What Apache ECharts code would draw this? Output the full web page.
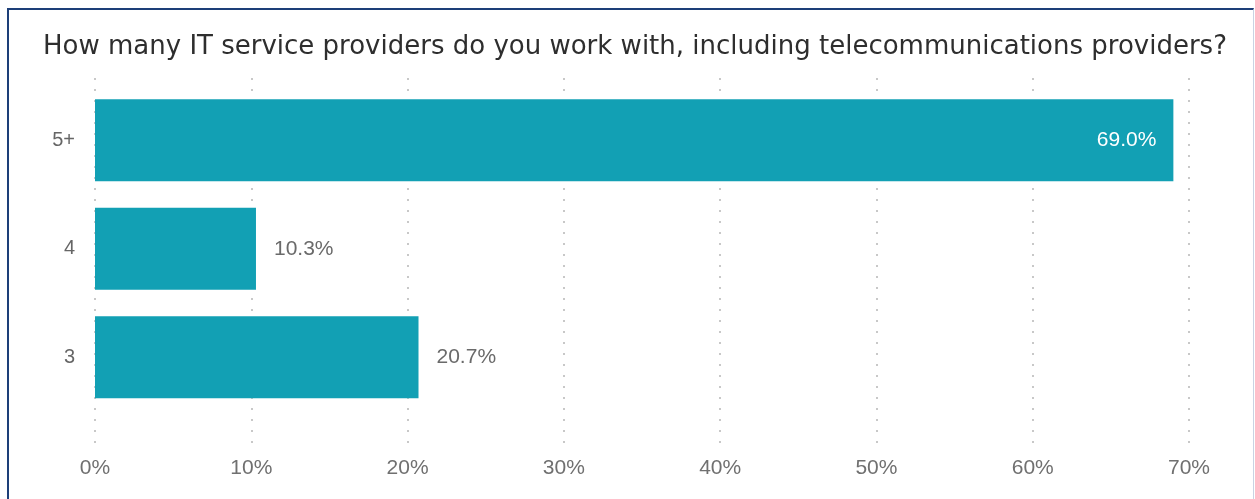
<!DOCTYPE html>
<html>
<head>
<meta charset="utf-8">
<script src="https://cdn.jsdelivr.net/npm/echarts@6/dist/echarts.min.js"></script>
<style>
  html, body { margin: 0; padding: 0; background: #fff; }
  #chart { position: absolute; left: 0; top: 0; width: 1255px; height: 499px; }
  #frame {
    position: absolute; left: 7px; top: 8px; width: 1244px; height: 500px;
    border-left: 2px solid #1d3f78; border-top: 2px solid #1d3f78;
    border-right: 1px solid #c9d3e3; pointer-events: none;
  }
</style>
</head>
<body>
<div id="chart"></div>
<div id="frame"></div>
<script>
// Survey answers, top row first
const categories = ['5+', '4', '3'];
const shares = [69.0, 10.3, 20.7];
const tickValues = [0, 10, 20, 30, 40, 50, 60, 70];
const titleText = 'How many IT service providers do you work with, including telecommunications providers?';

const axisMin = tickValues[0];
const axisMax = tickValues[tickValues.length - 1];
const step = tickValues[1] - tickValues[0];

const chart = echarts.init(document.getElementById('chart'), null, { renderer: 'canvas' });

const labelFont = '"Liberation Sans", Arial, sans-serif';

chart.setOption({
  animation: false,
  title: {
    text: titleText,
    left: 38,
    top: 29,
    textStyle: {
      fontFamily: '"DejaVu Sans", sans-serif',
      fontWeight: 'normal',
      fontSize: 26,
      color: '#2e2e2e'
    }
  },
  grid: [
    // bars
    { left: 95, right: 66, top: 86, height: 325.5, containLabel: false },
    // taller frame carrying the dotted gridlines and the percent ticks
    { left: 95, right: 66, top: 78, bottom: 53, containLabel: false }
  ],
  xAxis: [
    {
      gridIndex: 0, type: 'value', min: axisMin, max: axisMax, interval: step,
      show: false
    },
    {
      gridIndex: 1, type: 'value', min: axisMin, max: axisMax, interval: step,
      axisLine: { show: false },
      axisTick: { show: false },
      axisLabel: {
        margin: 12,
        fontFamily: labelFont, fontSize: 21, color: '#707070',
        formatter: v => v + '%'
      },
      splitLine: {
        show: true,
        lineStyle: { type: [2, 9], color: '#c8c8c8', width: 2 }
      }
    }
  ],
  yAxis: [
    {
      gridIndex: 0, type: 'category', data: categories, inverse: true,
      axisLine: { show: false },
      axisTick: { show: false },
      axisLabel: {
        margin: 20,
        fontFamily: labelFont, fontSize: 20, color: '#666666'
      },
      splitLine: { show: false }
    },
    {
      gridIndex: 1, type: 'value', min: 0, max: 1, show: false
    }
  ],
  series: [
    {
      type: 'bar',
      xAxisIndex: 0,
      yAxisIndex: 0,
      data: shares.map((v, i) => ({
        value: v,
        label: i === 0
          ? { position: 'insideRight', distance: 17, color: '#ffffff' }
          : { position: 'right', distance: 18, color: '#6a6a6a' }
      })),
      barWidth: 82,
      itemStyle: { color: '#12a0b4' },
      label: {
        show: true,
        fontFamily: labelFont,
        fontSize: 21,
        formatter: p => p.value.toFixed(1) + '%'
      }
    }
  ]
});
</script>
</body>
</html>
